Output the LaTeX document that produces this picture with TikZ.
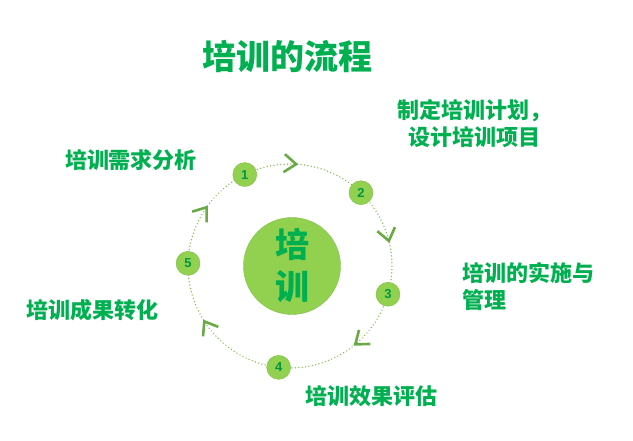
\documentclass[tikz,border=0pt]{standalone}
\usepackage{fontspec}
\setmainfont{Noto Sans CJK SC}
\newfontfamily\numfont{Liberation Sans}
\usetikzlibrary{arrows.meta,decorations.markings,backgrounds}
\definecolor{leaf}{RGB}{0,176,80}
\definecolor{ball}{RGB}{146,208,80}
\definecolor{ballrim}{RGB}{128,192,72}
\definecolor{chev}{RGB}{106,170,70}

\begin{document}
\begin{tikzpicture}[x=1pt,y=1pt,
      core/.style={circle, draw=ballrim, fill=ball, minimum size=97pt, inner sep=0pt, align=center,
        font=\fontsize{34}{42}\selectfont\bfseries, text=leaf},
      stepnum/.style={circle, draw=ballrim, fill=ball, minimum size=24pt, inner sep=0pt,
        font=\numfont\fontsize{13}{13}\selectfont\bfseries, text=leaf!85!black},
      lbl/.style={inner sep=0pt, font=\fontsize{22}{27}\selectfont\bfseries, text=leaf},
      ttl/.style={inner sep=0pt, font=\fontsize{34}{34}\selectfont\bfseries, text=leaf},
      cyc/.style={draw=ball!90!black, line width=1.5pt, line cap=round, dash pattern=on 0.01pt off 3.4pt,
        postaction={decorate, decoration={markings, mark=at position #1 with
          {\arrow{Straight Barb[length=12pt, width=18pt, line width=2.6pt, color=chev]}}}}}
    ]
      \useasboundingbox (0,0) rectangle (633,441);
      \coordinate (o) at (290,175);
      \node[core] (core) at (292,175) {培\\训};
      % the five steps round the ring
      \node[stepnum] (n1) at ([shift={(116.3:102)}]o) {1};
      \node[stepnum] (n2) at ([shift={(45.9:102)}]o) {2};
      \node[stepnum] (n3) at ([shift={(-16.1:102)}]o) {3};
      \node[stepnum] (n4) at ([shift={(263.6:102)}]o) {4};
      \node[stepnum] (n5) at ([shift={(178.5:102)}]o) {5};
      \begin{scope}[on background layer]
        \draw[cyc=0.44] (n1.center) arc[start angle=116.3, end angle=45.9, radius=102];
        \draw[cyc=0.53] (n2.center) arc[start angle=45.9, end angle=-16.1, radius=102];
        \draw[cyc=0.44] (n3.center) arc[start angle=-16.1, end angle=-96.4, radius=102];
        \draw[cyc=0.61] (n4.center) arc[start angle=263.6, end angle=178.5, radius=102];
        \draw[cyc=0.56] (n5.center) arc[start angle=178.5, end angle=116.3, radius=102];
      \end{scope}
      % labels
      \node[ttl] (title) at (287,384) {培训的流程};
      \node[lbl] (need) at (131,281) {培训需求分析};
      \node[lbl, align=center] (plan) at (474,317) {制定培训计划，\\设计培训项目};
      \node[lbl, align=left, anchor=west] (run) at (462,155) {培训的实施与\\管理};
      \node[lbl] (eval) at (371,45) {培训效果评估};
      \node[lbl] (apply) at (93,131) {培训成果转化};
    \end{tikzpicture}
\end{document}
